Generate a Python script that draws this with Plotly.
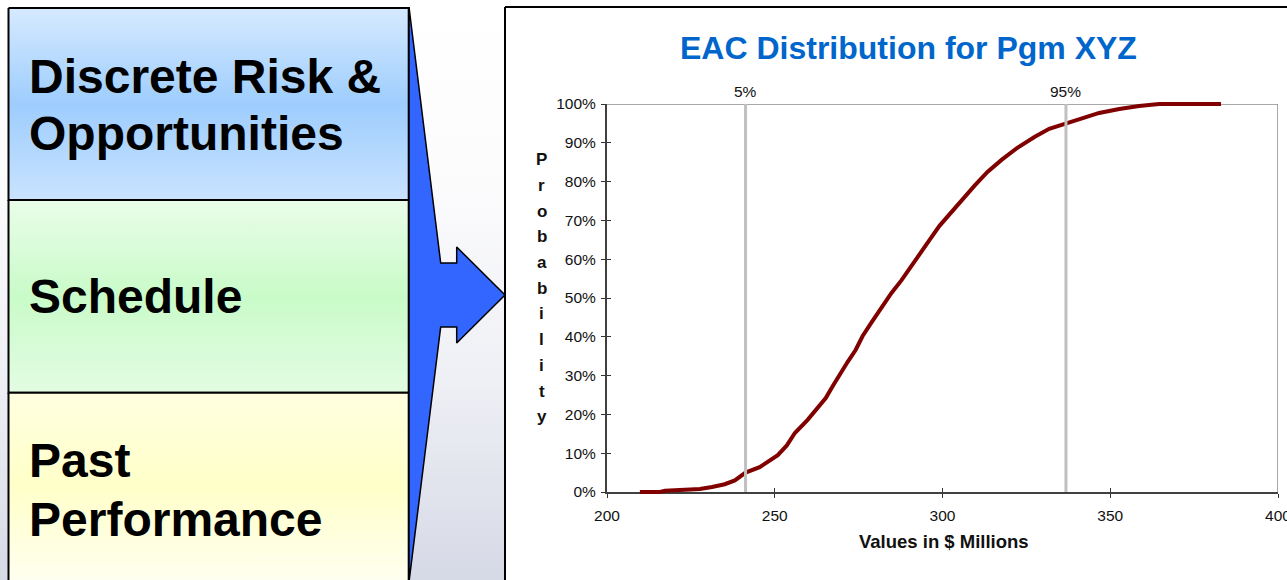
import numpy as np
import plotly.graph_objects as go

# ---- data -------------------------------------------------------------
# Simulated EAC outcomes ($ Millions) and their cumulative probability
eac_values = [209.8, 215.8, 217.3, 224.7, 227.7, 231.3, 235.1, 238.1, 241.3,
              245.5, 248.5, 250.9, 253.6, 256.0, 259.8, 262.2, 265.2, 267.3,
              269.3, 271.7, 274.1, 276.2, 278.9, 281.8, 284.8, 287.8, 290.2,
              293.2, 296.1, 299.1, 302.1, 305.7, 309.5, 313.4, 317.6, 322.3,
              327.4, 331.8, 336.8, 341.4, 346.7, 352.7, 358.6, 364.6, 383.0]
cum_prob = [0.000, 0.000, 0.003, 0.005, 0.008, 0.013, 0.020, 0.030, 0.050,
            0.064, 0.080, 0.095, 0.120, 0.152, 0.186, 0.210, 0.242, 0.273,
            0.302, 0.335, 0.366, 0.402, 0.438, 0.477, 0.513, 0.546, 0.577,
            0.613, 0.649, 0.686, 0.716, 0.753, 0.789, 0.825, 0.856, 0.887,
            0.915, 0.936, 0.950, 0.964, 0.977, 0.987, 0.995, 1.000, 1.000]
percentile_levels = [0.05, 0.95]
x_ticks = [200, 250, 300, 350, 400]
y_ticks = [0.0, 0.1, 0.2, 0.3, 0.4, 0.5, 0.6, 0.7, 0.8, 0.9, 1.0]
input_labels = [["Discrete Risk &", "Opportunities"], ["Schedule"], ["Past", "Performance"]]
chart_title = "EAC Distribution for Pgm XYZ"
x_title = "Values in $ Millions"
y_title = "Probability"

assert len(eac_values) == len(cum_prob)
percentile_x = np.interp(percentile_levels, cum_prob, eac_values)

# ---- page geometry (pixels) ------------------------------------------
W, H = 1287, 580
FONT = "Liberation Sans, Arial, sans-serif"
X_MIN, X_MAX = 200, 400
PLOT_L, PLOT_R, PLOT_T, PLOT_B = 607, 1278, 104, 492
px_per_x = (PLOT_R - PLOT_L) / (X_MAX - X_MIN)
px_per_y = PLOT_B - PLOT_T
PAD = 6  # slack so the thick curve is not clipped at 100%

fig = go.Figure()


def shape_poly(xs, ys, **kw):
    """Filled polygon on the pixel canvas (x right, y down)."""
    fig.add_trace(go.Scatter(x=xs, y=ys, mode="lines", fill="toself",
                             hoverinfo="skip", showlegend=False,
                             xaxis="x", yaxis="y", **kw))


# page background
shape_poly([0, W, W, 0, 0], [0, 0, H, H, 0], line=dict(width=0),
           fillcolor="white",
           fillgradient=dict(type="vertical", start=0, stop=H,
                             colorscale=[[0, "#ffffff"], [0.3, "#fcfcfd"],
                                         [0.65, "#eff0f5"], [1, "#d6d9e6"]]))

# three input boxes
BOX_L, BOX_R = 8.5, 408.7
box_rows = [(8, 200), (200, 392.7), (392.7, 600)]
box_scales = [
    [[0, "#d6eaff"], [0.5, "#9ecdfd"], [1, "#c9e3ff"]],
    [[0, "#e9fde9"], [0.5, "#c9fbc9"], [1, "#e3fce3"]],
    [[0, "#ffffe0"], [0.5, "#ffffc9"], [1, "#fffff0"]],
]
for (top, bot), cs in zip(box_rows, box_scales):
    shape_poly([BOX_L, BOX_R, BOX_R, BOX_L, BOX_L], [top, top, bot, bot, top],
               line=dict(color="black", width=2), fillcolor="white",
               fillgradient=dict(type="vertical", start=top, stop=min(bot, H),
                                 colorscale=cs))

# arrow pointing into the chart
arrow_x = [409, 440.7, 456.7, 456.7, 505, 456.7, 456.7, 440.7, 409, 409]
arrow_y = [7, 263, 263, 247, 295, 343, 327, 327, 582, 7]
shape_poly(arrow_x, arrow_y, line=dict(color="black", width=1.5),
           fillcolor="#3366ff")

# chart panel
shape_poly([505, 1300, 1300, 505, 505], [7, 7, 600, 600, 7],
           line=dict(color="black", width=2), fillcolor="white")

# ---- chart ------------------------------------------------------------
fig.add_trace(go.Scatter(x=eac_values, y=cum_prob, mode="lines",
                         line=dict(color="#800000", width=4),
                         xaxis="x4", yaxis="y4", showlegend=False,
                         hoverinfo="skip"))
for px_ in percentile_x:
    fig.add_trace(go.Scatter(x=[px_, px_], y=[0, 1], mode="lines",
                             line=dict(color="#c0c0c0", width=3),
                             xaxis="x4", yaxis="y4", showlegend=False,
                             hoverinfo="skip"))
# dummy trace so the inside-tick overlay axes render
fig.add_trace(go.Scatter(x=[None], y=[None], xaxis="x3", yaxis="y3",
                         showlegend=False, hoverinfo="skip"))

xdom = [PLOT_L / W, PLOT_R / W]
ydom = [1 - PLOT_B / H, 1 - PLOT_T / H]
tickfont = dict(family=FONT, size=15.5, color="#111111")

fig.update_layout(
    template="none",
    width=W, height=H, margin=dict(l=0, r=0, t=0, b=0, pad=0),
    paper_bgcolor="white", plot_bgcolor="rgba(0,0,0,0)",
    showlegend=False,
    xaxis=dict(range=[0, W], domain=[0, 1], visible=False, fixedrange=True,
               automargin=False),
    yaxis=dict(range=[H, 0], domain=[0, 1], visible=False, fixedrange=True,
               automargin=False),
    xaxis2=dict(domain=xdom, anchor="y2", range=[X_MIN, X_MAX],
                tickvals=x_ticks, ticks="outside", ticklen=4, tickwidth=1,
                tickcolor="#333333", showline=True, linecolor="#404040",
                linewidth=2, showgrid=False, zeroline=False,
                tickfont=tickfont, ticklabelstandoff=4, automargin=False,
                ticklabeloverflow="allow"),
    yaxis2=dict(domain=ydom, anchor="x2", range=[0, 1], tickvals=y_ticks,
                tickformat=".0%", ticks="outside", ticklen=4, tickwidth=1,
                tickcolor="#333333", showline=True, linecolor="#404040",
                linewidth=2, showgrid=False, zeroline=False,
                tickfont=tickfont, ticklabelstandoff=2, automargin=False,
                ticklabeloverflow="allow"),
    xaxis3=dict(overlaying="x2", anchor="y3", range=[X_MIN, X_MAX],
                tickvals=x_ticks, ticks="inside", ticklen=4, tickwidth=1,
                tickcolor="#333333", showticklabels=False, showline=False,
                showgrid=False, zeroline=False, automargin=False),
    yaxis3=dict(overlaying="y2", anchor="x3", range=[0, 1], tickvals=y_ticks,
                ticks="inside", ticklen=4, tickwidth=1, tickcolor="#333333",
                showticklabels=False, showline=False, showgrid=False,
                zeroline=False, automargin=False),
    xaxis4=dict(domain=[(PLOT_L - PAD) / W, (PLOT_R + PAD) / W], anchor="y4",
                range=[X_MIN - PAD / px_per_x, X_MAX + PAD / px_per_x],
                visible=False, automargin=False),
    yaxis4=dict(domain=[1 - (PLOT_B + PAD) / H, 1 - (PLOT_T - PAD) / H],
                anchor="x4", range=[-PAD / px_per_y, 1 + PAD / px_per_y],
                visible=False, automargin=False),
)

# gray frame on top and right of the plot area
frame = dict(color="#8c8c8c", width=1.5)
fig.add_shape(type="line", xref="x2", yref="y2", x0=X_MIN, x1=X_MAX, y0=1, y1=1,
              line=frame, layer="below")
fig.add_shape(type="line", xref="x2", yref="y2", x0=X_MAX, x1=X_MAX, y0=0, y1=1,
              line=frame, layer="below")

# ---- text -------------------------------------------------------------
box_text_mid = [[76.5, 133.5], [296], [460.5, 519]]
for lines, mids in zip(input_labels, box_text_mid):
    for line, ym in zip(lines, mids):
        fig.add_annotation(x=27, y=ym, xref="x", yref="y", text=line,
                           showarrow=False, xanchor="left", yanchor="middle",
                           font=dict(family=FONT, size=48, color="black",
                                     weight="bold"))

fig.add_annotation(x=909 / W, y=1 - 48 / H, xref="paper", yref="paper",
                   text=chart_title, showarrow=False, xanchor="center",
                   yanchor="middle",
                   font=dict(family=FONT, size=32, color="#0066CC",
                             weight="bold"))

for lvl, px_ in zip(percentile_levels, percentile_x):
    fig.add_annotation(x=px_, y=1 - 91 / H, xref="x2", yref="paper",
                       text=f"{round(lvl * 100)}%", showarrow=False,
                       xanchor="center", yanchor="middle",
                       font=dict(family=FONT, size=15.5, color="#111111"))

fig.add_annotation(x=944 / W, y=1 - 541 / H, xref="paper", yref="paper",
                   text=x_title, showarrow=False, xanchor="center",
                   yanchor="middle",
                   font=dict(family=FONT, size=18.5, color="#111111",
                             weight="bold"))

# stacked vertical axis title, one letter per row
for k, ch in enumerate(y_title):
    baseline = 165.7 + k * 25.7
    fig.add_annotation(x=541.5 / W, y=1 - (baseline - 6) / H, xref="paper",
                       yref="paper", text=ch, showarrow=False,
                       xanchor="center", yanchor="middle",
                       font=dict(family=FONT, size=17, color="#111111",
                                 weight="bold"))

fig.write_html("out.html")
